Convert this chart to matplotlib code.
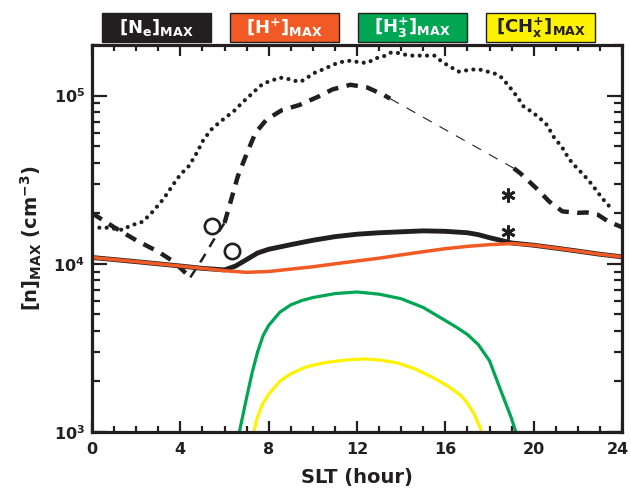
import matplotlib
matplotlib.use('Agg')
import matplotlib.pyplot as plt
from matplotlib.patches import Rectangle
from matplotlib.transforms import ScaledTranslation
from matplotlib.ticker import FixedLocator, FixedFormatter, MultipleLocator, LogLocator, NullFormatter

plt.rcParams['font.family'] = ['DejaVu Sans']
plt.rcParams['font.weight'] = 'bold'
plt.rcParams['mathtext.fontset'] = 'custom'
plt.rcParams['mathtext.rm'] = 'DejaVu Sans:bold'
plt.rcParams['mathtext.it'] = 'DejaVu Sans:bold'
plt.rcParams['mathtext.bf'] = 'DejaVu Sans:bold'
plt.rcParams['mathtext.default'] = 'rm'

# ---- data ----
h_hour = [0, 1, 2, 3, 4, 5, 6, 7, 8, 9, 10, 11, 12, 13, 14, 15, 16, 17, 18, 19, 20, 21, 22, 23, 24]
h_val = [1.09e4, 1.06e4, 1.03e4, 1.0e4, 9.7e3, 9.4e3, 9.1e3, 8.9e3, 9.0e3, 9.3e3, 9.6e3, 1.0e4, 1.04e4,
         1.08e4, 1.13e4, 1.18e4, 1.23e4, 1.27e4, 1.30e4, 1.32e4, 1.29e4, 1.24e4, 1.19e4, 1.14e4, 1.10e4]

ne_hour = [0, 1, 2, 3, 4, 5, 6, 6.5, 7, 7.5, 8, 9, 10, 11, 12, 13, 14, 15, 16, 17, 17.5, 18, 18.5, 19,
           20, 21, 22, 23, 24]
ne_val = [1.09e4, 1.06e4, 1.03e4, 1.0e4, 9.7e3, 9.4e3, 9.2e3, 9.7e3, 1.06e4, 1.16e4, 1.22e4, 1.30e4,
          1.38e4, 1.45e4, 1.50e4, 1.53e4, 1.55e4, 1.57e4, 1.56e4, 1.53e4, 1.49e4, 1.43e4, 1.38e4, 1.33e4,
          1.29e4, 1.24e4, 1.19e4, 1.14e4, 1.10e4]

h3_hour = [6.6, 6.8, 7.0, 7.25, 7.5, 7.75, 8.0, 8.5, 9.0, 9.5, 10, 11, 12, 13, 14, 15, 16, 16.5, 17,
           17.5, 18, 18.5, 19.0, 19.3]
h3_val = [9.0e2, 1.2e3, 1.6e3, 2.25e3, 3.0e3, 3.75e3, 4.3e3, 5.15e3, 5.7e3, 6.05e3, 6.3e3, 6.65e3,
          6.8e3, 6.6e3, 6.2e3, 5.5e3, 4.6e3, 4.2e3, 3.8e3, 3.3e3, 2.65e3, 1.78e3, 1.2e3, 9.0e2]

ch_hour = [7.25, 7.45, 7.7, 8.0, 8.5, 9.0, 9.7, 10.5, 11.5, 12.3, 13.0, 13.8, 14.6, 15.4, 16.1, 16.7,
           17.0, 17.3, 17.55, 17.75]
ch_val = [9.0e2, 1.18e3, 1.45e3, 1.68e3, 2.0e3, 2.22e3, 2.44e3, 2.58e3, 2.68e3, 2.72e3, 2.68e3, 2.58e3,
          2.38e3, 2.12e3, 1.88e3, 1.65e3, 1.48e3, 1.28e3, 1.08e3, 9.0e2]

dash_hour = [0, 1, 2, 3, 3.7, 4.45, 5.0, 5.5, 6.0, 6.3, 6.6, 7.0, 7.4, 7.9, 8.6, 9.4, 10.2, 10.9, 11.7,
             12.45, 13.2, 13.5, 19.1, 19.4, 20.2, 20.7, 21.3, 22.0, 22.4, 22.9, 23.4, 24]
dash_val = [2.0e4, 1.65e4, 1.38e4, 1.18e4, 1.03e4, 8.3e3, 1.07e4, 1.38e4, 1.75e4, 2.4e4, 3.3e4, 4.5e4,
            6.0e4, 7.2e4, 8.2e4, 8.8e4, 9.8e4, 1.09e5, 1.16e5, 1.12e5, 1.01e5, 9.6e4, 3.7e4, 3.45e4,
            2.75e4, 2.35e4, 2.05e4, 2.01e4, 2.02e4, 1.96e4, 1.78e4, 1.65e4]

dot_hour = [0, 0.7, 1.4, 1.7, 2.3, 2.7, 3.1, 3.4, 3.7, 4.0, 4.4, 4.75, 5.05, 5.4, 5.75, 6.1, 6.45, 6.8,
            7.1, 7.45, 7.75, 8.15, 8.5, 8.85, 9.1, 9.45, 9.75, 10.1, 10.45, 10.85, 11.15, 11.55, 11.8,
            12.15, 12.5, 12.8, 13.2, 13.5, 13.8, 14.2, 14.5, 15.0, 15.5, 15.85, 16.2, 16.6, 16.9,
            17.25, 17.55, 17.9, 18.25, 18.55, 18.9, 19.25, 19.55, 19.9, 20.25, 20.6, 20.9, 21.3, 21.6,
            21.95, 22.3, 22.65, 22.95, 23.3, 23.6]
dot_val = [1.64e4, 1.64e4, 1.59e4, 1.68e4, 1.78e4, 2.01e4, 2.31e4, 2.61e4, 2.99e4, 3.39e4, 3.83e4,
           4.58e4, 5.47e4, 6.28e4, 6.9e4, 7.5e4, 8.15e4, 9.08e4, 9.86e4, 1.09e5, 1.18e5, 1.23e5, 1.28e5,
           1.26e5, 1.23e5, 1.21e5, 1.28e5, 1.37e5, 1.43e5, 1.51e5, 1.57e5, 1.61e5, 1.61e5, 1.57e5,
           1.57e5, 1.66e5, 1.71e5, 1.80e5, 1.80e5, 1.75e5, 1.73e5, 1.73e5, 1.73e5, 1.59e5, 1.49e5,
           1.39e5, 1.41e5, 1.43e5, 1.43e5, 1.39e5, 1.35e5, 1.28e5, 1.13e5, 9.86e4, 8.6e4, 8.04e4,
           7.4e4, 6.7e4, 5.7e4, 4.9e4, 4.2e4, 3.72e4, 3.34e4, 2.95e4, 2.61e4, 2.28e4, 2.1e4]

circ_hour = [5.43, 6.34]
circ_val = [1.68e4, 1.19e4]
star_hour = [18.84, 18.84]
star_val = [2.58e4, 1.55e4]

legend_labels = [r'[N$_{e}$]$_{MAX}$', r'[H$^{+}$]$_{MAX}$', r'[H$_{3}^{+}$]$_{MAX}$', r'[CH$_{x}^{+}$]$_{MAX}$']
legend_colors = ['#231f20', '#f15a24', '#00a651', '#fff200']
legend_text_colors = ['white', 'white', 'white', '#231f20']

xticks = [0, 4, 8, 12, 16, 20, 24]
yticks = [1e3, 1e4, 1e5]
ytick_labels = [r'10$^{3}$', r'10$^{4}$', r'10$^{5}$']

# ---- figure ----
W, H = 631, 490
fig = plt.figure(figsize=(W / 100, H / 100), dpi=100)
ax = fig.add_axes([92 / W, 1 - 432 / H, 530 / W, 387 / H])
ax.set_yscale('log')

black = legend_colors[0]
ax.plot(dot_hour, dot_val, color=black, lw=3.0, dashes=(0.01, 1.75), dash_capstyle='round',
        solid_capstyle='round')
ax.plot(dash_hour[:6], dash_val[:6], color=black, lw=3.2, dashes=(2.6, 1.9))
ax.plot(dash_hour[5:9], dash_val[5:9], color=black, lw=1.8, dashes=(4.0, 3.2))
ax.plot(dash_hour[8:22], dash_val[8:22], color=black, lw=3.2, dashes=(2.6, 1.9))
ax.plot(dash_hour[21:23], dash_val[21:23], color=black, lw=0.8, dashes=(9, 8))
ax.plot(dash_hour[22:], dash_val[22:], color=black, lw=3.2, dashes=(2.6, 1.9))

ax.plot(ne_hour, ne_val, color=black, lw=3.5, solid_capstyle='butt')
ax.plot(h_hour, h_val, color=legend_colors[1], lw=2.5)
ax.plot(h3_hour, h3_val, color=legend_colors[2], lw=2.3)
ax.plot(ch_hour, ch_val, color=legend_colors[3], lw=2.3)

ax.plot(circ_hour, circ_val, 'o', ms=11, mfc='none', mec=black, mew=1.9)
ax.plot(star_hour, star_val, ls='none', marker=(6, 2, 0), ms=10, mec=black, mew=2.0)

ax.set_xlim(0, 24)
ax.set_ylim(1e3, 2.0e5)
ax.xaxis.set_major_locator(FixedLocator(xticks))
ax.xaxis.set_minor_locator(MultipleLocator(1))
ax.yaxis.set_major_locator(FixedLocator(yticks))
ax.yaxis.set_major_formatter(FixedFormatter(ytick_labels))
ax.yaxis.set_minor_locator(LogLocator(base=10, subs=range(2, 10)))
ax.yaxis.set_minor_formatter(NullFormatter())

for s in ax.spines.values():
    s.set_linewidth(2.3)
    s.set_color(black)
ax.tick_params(which='both', direction='in', top=True, right=True, width=1.6, color=black,
               labelsize=11.5, labelcolor=black)
ax.tick_params(axis='x', which='major', length=8, pad=7)
ax.tick_params(axis='x', which='minor', length=4.5)
ax.tick_params(axis='y', which='major', length=11, pad=5)
ax.tick_params(axis='y', which='minor', length=6)

# nudge the last x label so it stays inside the picture
last = ax.get_xticklabels()[-1]
last.set_transform(last.get_transform() + ScaledTranslation(-4 / 100, 0, fig.dpi_scale_trans))

ax.set_xlabel('SLT (hour)', fontsize=14, fontweight='bold', color=black, labelpad=8)
ax.set_ylabel(r'[n]$_{MAX}$ (cm$^{-3}$)', fontsize=14, fontweight='bold', color=black, labelpad=7)

# colour-key boxes above the plot
box_left = [102, 230, 358, 486]
for x0, lab, fc, tc in zip(box_left, legend_labels, legend_colors, legend_text_colors):
    fig.add_artist(Rectangle((x0 / W, 1 - 42 / H), 109 / W, 29 / H, transform=fig.transFigure,
                             facecolor=fc, edgecolor=black, lw=1.0))
    fig.text((x0 + 54.5) / W, 1 - 28 / H, lab, color=tc, fontsize=13, fontweight='bold',
             ha='center', va='center')

fig.savefig('out.png', dpi=100)
